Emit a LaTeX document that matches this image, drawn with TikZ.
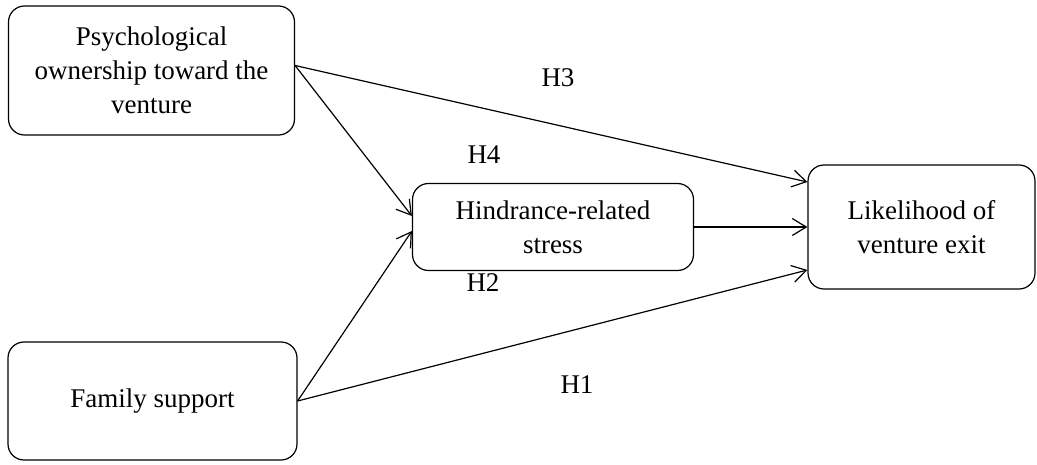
\documentclass[tikz,border=0pt]{standalone}
\usepackage{fontspec}
\setmainfont{Liberation Serif}
\usetikzlibrary{arrows.meta}

\begin{document}
\begin{tikzpicture}[x=1pt,y=-1pt,
  box/.style={draw,line width=1.2pt,rounded corners=16pt,align=center,
    font=\fontsize{27}{34}\selectfont,inner sep=0pt},
  path/.style={line width=1.2pt,-{Straight Barb[length=14pt,width=17pt,line width=1.2pt]}},
  hyp/.style={font=\fontsize{27}{30}\selectfont}]
\useasboundingbox (0,0) rectangle (1037,465);
% CONSTRUCTS
\node [box,minimum width=286pt,minimum height=129pt] (psych) at (151.5,70.5)
  {Psychological\\ownership toward the\\venture};
\node [box,minimum width=289pt,minimum height=118pt] (fam) at (152.5,401) {Family support};
\node [box,minimum width=281pt,minimum height=87pt] (hind) at (553,227)
  {Hindrance-related\\stress};
\node [box,minimum width=227pt,minimum height=124pt] (exit) at (921.5,227)
  {Likelihood of\\venture exit};
% PATHS
\draw [path] ([yshift=5pt]psych.east) -- ([yshift=45pt]exit.west);
\draw [path] ([yshift=5pt]psych.east) -- ([yshift=11pt]hind.west);
\draw [path] (fam.east) -- ([yshift=-4pt]hind.west);
\draw [path] (fam.east) -- ([yshift=-43pt]exit.west);
\draw [path] (hind.east) -- (exit.west);
% HYPOTHESES
\node [hyp] (h3) at (558,78) {H3};
\node [hyp] (h4) at (484,155) {H4};
\node [hyp] (h2) at (483,283) {H2};
\node [hyp] (h1) at (577,385) {H1};
\end{tikzpicture}
\end{document}
